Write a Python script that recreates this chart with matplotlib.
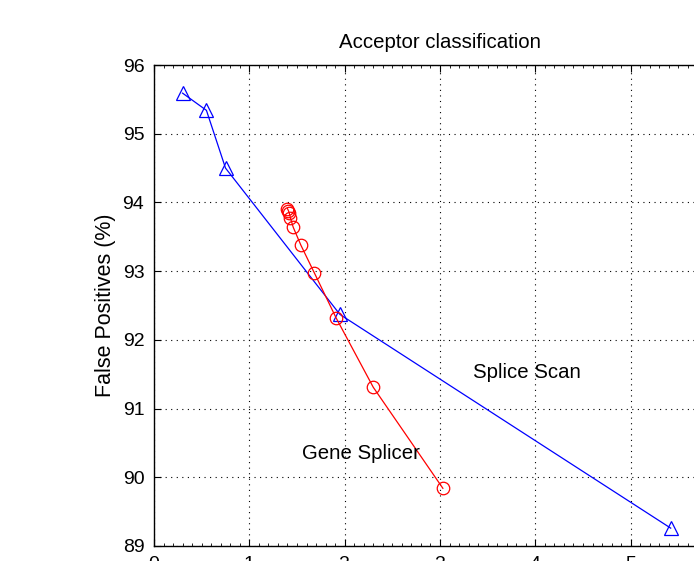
import numpy as np
import matplotlib
matplotlib.use('Agg')
from matplotlib import pyplot as plt
from matplotlib.ticker import MultipleLocator

plt.rcParams['font.family'] = ['Liberation Sans', 'DejaVu Sans']

# Splice Scan (blue triangles)
scan_x = [0.30, 0.55, 0.75, 1.95, 5.42]
scan_y = [95.59, 95.34, 94.50, 92.37, 89.26]

# Gene Splicer (red circles)
gene_x = [1.40, 1.41, 1.42, 1.43, 1.46, 1.54, 1.68, 1.91, 2.30, 3.03]
gene_y = [93.91, 93.88, 93.84, 93.78, 93.64, 93.38, 92.98, 92.32, 91.31, 89.84]

xticks = [0, 1, 2, 3, 4, 5, 6]
yticks = [89, 90, 91, 92, 93, 94, 95, 96]

fig = plt.figure(figsize=(6.94, 5.61), dpi=100)
# axes run past the right/bottom edge, like the cropped original
ax = fig.add_axes([154/694, 15/561, 572/694, 481/561])

ax.plot(scan_x, scan_y, color='b', lw=0.9, marker='^', ms=10,
        mfc='none', mec='b', mew=0.9)
ax.plot(gene_x, gene_y, color='r', lw=0.9, marker='o', ms=9,
        mfc='none', mec='r', mew=0.9)

ax.text(3.91, 91.53, 'Splice Scan', fontsize=14.7, ha='center', va='center')
ax.text(2.17, 90.35, 'Gene Splicer', fontsize=14.7, ha='center', va='center')

ax.set_xlim(0, 6)
ax.set_ylim(89, 96)
ax.set_xticks(xticks)
ax.set_yticks(yticks)
ax.xaxis.set_minor_locator(MultipleLocator(0.1))
ax.tick_params(which='major', direction='in', length=5, labelsize=14, top=True, right=True, pad=7)
ax.tick_params(which='minor', axis='x', direction='in', length=2, top=True)
ax.grid(True, which='major', color='k', linestyle=(0, (1, 4)), linewidth=0.8)
for s in ax.spines.values():
    s.set_linewidth(1.0)

ax.set_title('Acceptor classification', fontsize=14.7, pad=12)
ax.set_ylabel('False Positives (%)', fontsize=15.5, labelpad=5)

fig.savefig('out.png', dpi=100)
